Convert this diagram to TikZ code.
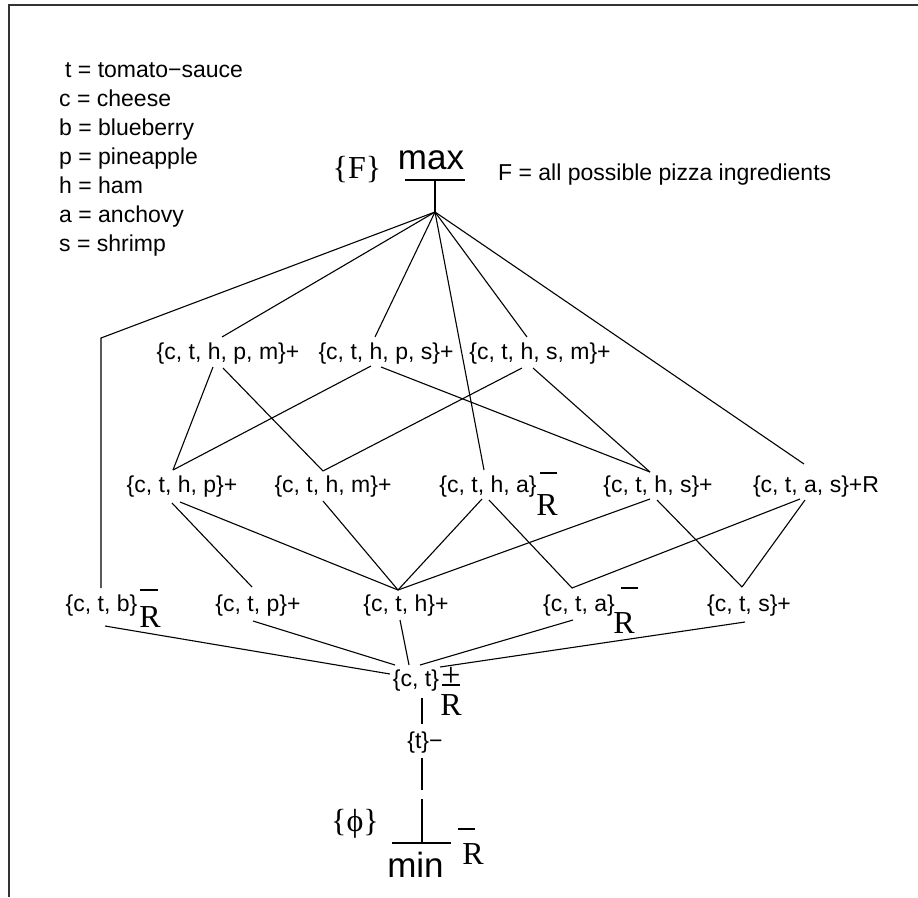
\documentclass[tikz,border=0pt]{standalone}
\usepackage{fontspec}
\setmainfont{Liberation Sans}
\newfontfamily\seriffont{Liberation Serif}
\usetikzlibrary{calc}
\begin{document}
\begin{tikzpicture}[x=1pt,y=-1pt,
  lbl/.style={font=\fontsize{23}{27}\selectfont, inner sep=0pt},
  leg/.style={font=\fontsize{23}{27}\selectfont, inner sep=0pt, anchor=base west},
  big/.style={font=\seriffont\fontsize{32}{36}\selectfont, inner sep=0pt},
  bigR/.style={font=\seriffont\fontsize{32}{36}\selectfont, inner sep=0pt, anchor=base},
  ext/.style={font=\fontsize{35}{40}\selectfont, inner sep=0pt, anchor=base},
  conn/.style={line width=1.1pt},
  barline/.style={line width=1.1pt},
  frame/.style={line width=1.6pt, black!80}]
\useasboundingbox (0,0) rectangle (918,897);
\coordinate (fa) at (918,5); \coordinate (fb) at (9,5); \coordinate (fc) at (9,897);
\draw[frame] (fa) -- (fb) -- (fc);

% legend
\node[leg] (lt) at (65,77) {t = tomato−sauce};
\node[leg] (lc) at (59,106) {c = cheese};
\node[leg] (lb) at (59,135) {b = blueberry};
\node[leg] (lp) at (59,164) {p = pineapple};
\node[leg] (lh) at (59,193) {h = ham};
\node[leg] (la) at (59,222) {a = anchovy};
\node[leg] (ls) at (59,251) {s = shrimp};

% top
\node[big] (F) at (357,170) {\{F\}};
\node[ext] (max) at (431,169) {max};
\node[leg] (Fdef) at (498,180) {F = all possible pizza ingredients};
\coordinate (mbl) at (405,180); \coordinate (mbr) at (465,180);
\coordinate (mtop) at (435,180); \coordinate (apex) at (435,212);
\draw[barline] (mbl) -- (mbr);
\draw[conn] (mtop) -- (apex);

% nodes
\node[lbl] (chpm) at (228,354) {\{c, t, h, p, m\}+};
\node[lbl] (chps) at (386,354) {\{c, t, h, p, s\}+};
\node[lbl] (chsm) at (540,354) {\{c, t, h, s, m\}+};
\node[lbl] (chp) at (182,487) {\{c, t, h, p\}+};
\node[lbl] (chm) at (333,487) {\{c, t, h, m\}+};
\node[lbl] (chta) at (488,487) {\{c, t, h, a\}};
\node[lbl] (chs) at (658,487) {\{c, t, h, s\}+};
\node[lbl] (ctas) at (816,487) {\{c, t, a, s\}+R};
\node[lbl] (ctb) at (101.5,606) {\{c, t, b\}};
\node[lbl] (ctp) at (258,606) {\{c, t, p\}+};
\node[lbl] (cth) at (406,606) {\{c, t, h\}+};
\node[lbl] (cta) at (579,606) {\{c, t, a\}};
\node[lbl] (cts) at (749,606) {\{c, t, s\}+};
\node[lbl] (ct) at (416,681) {\{c, t\}};
\node[lbl] (t) at (425,743) {\{t\}−};

% R-bar marks
\node[bigR] (Rchta) at (547,515) {R};
\draw[barline] (540,473) -- (557,473);
\node[bigR] (Rctb) at (150,627) {R};
\draw[barline] (140,590) -- (158,590);
\node[bigR] (Rcta) at (624,633) {R};
\draw[barline] (621,588) -- (638,588);
\node[bigR, font=\seriffont\fontsize{34}{38}\selectfont] (ctplus) at (451,686) {+};
\draw[barline] (442,685) -- (460,685);
\node[bigR] (Rct) at (451,715) {R};

% bottom
\node[big] (phi) at (355,824) {\{ϕ\}};
\node[ext] (min) at (415.5,877) {min};
\coordinate (minl) at (392,843); \coordinate (minr) at (451,843);
\coordinate (minmid) at (422,843);
\draw[barline] (minl) -- (minr);
\node[bigR] (Rmin) at (473,864) {R};
\draw[barline] (458,829) -- (475,829);

% connectors from apex
\coordinate (corner) at (101,338);
\draw[conn] (apex) -- (corner) -- ($(ctb)+(-0.5,-18)$);
\draw[conn] (apex) -- ($(chpm)+(-6,-17)$);
\draw[conn] (apex) -- ($(chps)+(-11,-17)$);
\draw[conn] (apex) -- ($(chta)+(-4,-17)$);
\draw[conn] (apex) -- ($(chsm)+(-13,-17)$);
\draw[conn] (apex) -- ($(ctas)+(-12,-23)$);

% row1 -> row2
\draw[conn] ($(chpm)+(-15,13)$) -- ($(chp)+(-9,-17)$);
\draw[conn] ($(chpm)+(-5,14)$) -- ($(chm)+(-10,-16)$);
\draw[conn] ($(chps)+(-15,12)$) -- ($(chp)+(-9,-17)$);
\draw[conn] ($(chps)+(-5,13)$) -- ($(chs)+(-8,-15)$);
\draw[conn] ($(chsm)+(-18,14)$) -- ($(chm)+(-10,-16)$);
\draw[conn] ($(chsm)+(-7,14)$) -- ($(chs)+(-8,-15)$);

% row2 -> row3
\draw[conn] ($(chp)+(-10,16)$) -- ($(ctp)+(-6,-19)$);
\draw[conn] ($(chp)+(-2,15)$) -- ($(cth)+(-8,-16)$);
\draw[conn] ($(chm)+(-10,14)$) -- ($(cth)+(-8,-16)$);
\draw[conn] ($(chta)+(-6,12)$) -- ($(cth)+(-8,-16)$);
\draw[conn] ($(chta)+(1,13)$) -- ($(cta)+(-7,-18)$);
\draw[conn] ($(chs)+(-8,12)$) -- ($(cth)+(-8,-16)$);
\draw[conn] ($(chs)+(-1,13)$) -- ($(cts)+(-7,-19)$);
\draw[conn] ($(ctas)+(-16,12)$) -- ($(cta)+(-7,-18)$);
\draw[conn] ($(ctas)+(-11,13)$) -- ($(cts)+(-7,-19)$);

% row3 -> {c,t}
\draw[conn] ($(ctb)+(3.5,20)$) -- ($(ct)+(-26,-7)$);
\draw[conn] ($(ctp)+(-5,15)$) -- ($(ct)+(-21,-16)$);
\draw[conn] ($(cth)+(-6,14)$) -- ($(ct)+(-7,-16)$);
\draw[conn] ($(cta)+(-6,14)$) -- ($(ct)+(4,-16)$);
\draw[conn] ($(cts)+(-4,16)$) -- ($(ct)+(24,-14)$);

% chain down
\coordinate (g1) at (422,790); \coordinate (g2) at (422,799);
\draw[conn] ($(ct)+(6,17)$) -- ($(t)+(-3,-19)$);
\draw[conn] ($(t)+(-3,15)$) -- (g1);
\draw[conn] (g2) -- (minmid);
\end{tikzpicture}
\end{document}
